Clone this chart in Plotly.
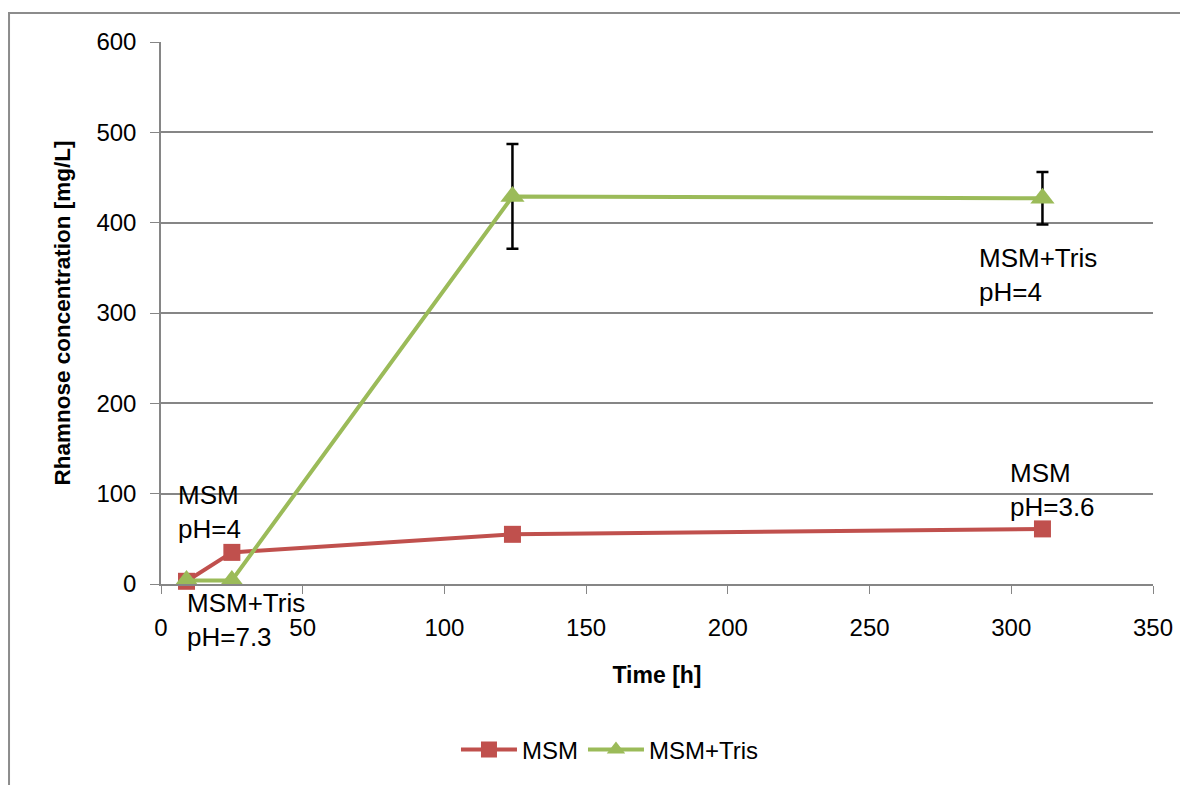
import plotly.graph_objects as go

time_msm = [9, 25, 124, 311]
msm = [3, 35, 55, 61]
time_tris = [9, 25, 124, 311]
tris = [4, 4, 429, 427]
tris_err = [0, 0, 58, 29]

RED = "#C0504D"
GREEN = "#9BBB59"
FONT = "Liberation Sans, Arial, sans-serif"

fig = go.Figure()
fig.add_trace(go.Scatter(
    x=time_msm, y=msm, name="MSM", mode="lines+markers",
    line=dict(color=RED, width=4),
    marker=dict(symbol="square", size=17, color=RED),
    cliponaxis=False,
))
fig.add_trace(go.Scatter(
    x=time_tris, y=tris, name="MSM+Tris", mode="lines+markers",
    line=dict(color=GREEN, width=4),
    marker=dict(symbol="triangle-up", size=21, color=GREEN),
    error_y=dict(type="data", array=tris_err, visible=True, color="black", thickness=2.5, width=6),
    cliponaxis=False,
))

ann = [
    (0.0151, 0.133, "MSM<br>pH=4"),
    (0.0242, -0.0655, "MSM+Tris<br>pH=7.3"),
    (0.8226, 0.570, "MSM+Tris<br>pH=4"),
    (0.8538, 0.173, "MSM<br>pH=3.6"),
]
for x, y, t in ann:
    fig.add_annotation(x=x, y=y, xref="paper", yref="paper", text=t, showarrow=False,
                       xanchor="left", yanchor="middle", align="left",
                       font=dict(family=FONT, size=26, color="black"))

fig.add_shape(type="rect", xref="paper", yref="paper", x0=-0.1532, x1=1.2, y0=-0.6, y1=1.0535,
              line=dict(color="#8c8c8c", width=2), fillcolor="rgba(0,0,0,0)", layer="below")

fig.update_layout(
    width=1180, height=777,
    margin=dict(l=153, r=35, t=34, b=201),
    paper_bgcolor="white", plot_bgcolor="white",
    font=dict(family=FONT, size=23, color="black"),
    showlegend=True,
    legend=dict(orientation="h", x=0.4526, xanchor="center", y=-0.306, yanchor="middle",
                font=dict(size=24), traceorder="normal", itemwidth=56),
)
fig.update_xaxes(
    range=[0, 350], tick0=0, dtick=50, showgrid=False, zeroline=False,
    showline=True, linecolor="#868686", linewidth=1.5,
    ticks="outside", ticklen=8, tickcolor="#868686",
    tickfont=dict(size=24), ticklabelstandoff=13,
    title=dict(text="<b>Time [h]</b>", font=dict(size=23), standoff=27),
)
fig.update_yaxes(
    range=[0, 600], tick0=0, dtick=100, showgrid=True, gridcolor="#868686", gridwidth=1.5,
    zeroline=False, showline=True, linecolor="#868686", linewidth=1.5,
    ticks="outside", ticklen=9, tickcolor="#868686",
    tickfont=dict(size=24), ticklabelstandoff=9,
    title=dict(text="<b>Rhamnose concentration [mg/L]</b>", font=dict(size=22.5), standoff=20),
)
fig.write_html("out.html")
